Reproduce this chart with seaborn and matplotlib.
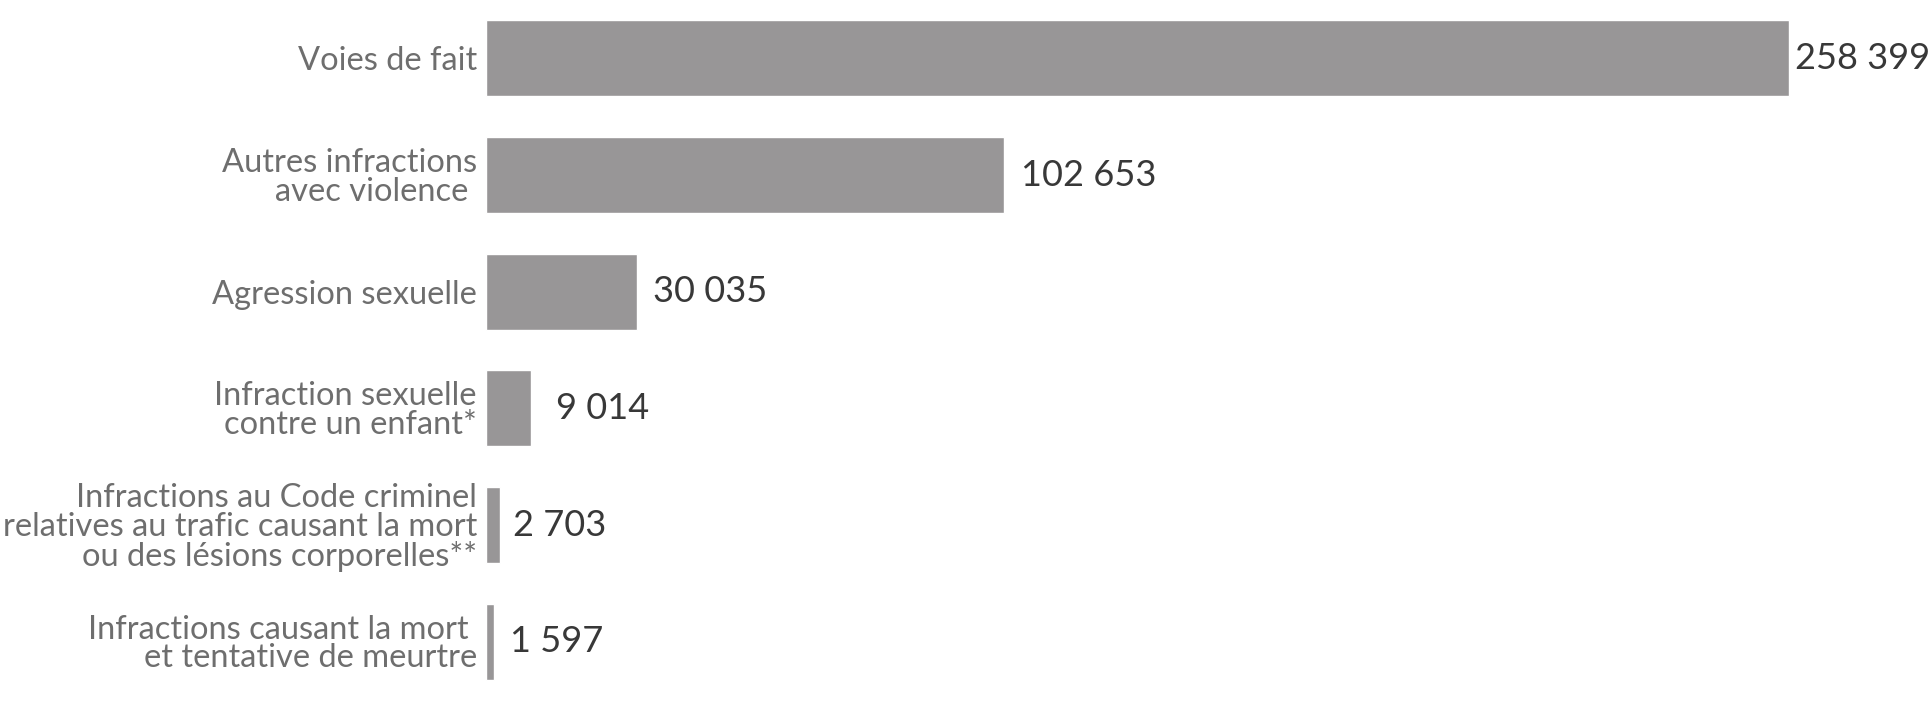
import matplotlib
matplotlib.use("Agg")
import matplotlib.pyplot as plt
import seaborn as sns
import pandas as pd

categories = [
    "Voies de fait",
    "Autres infractions\navec violence ",
    "Agression sexuelle",
    "Infraction sexuelle\ncontre un enfant*",
    "Infractions au Code criminel\nrelatives au trafic causant la mort\nou des lésions corporelles**",
    "Infractions causant la mort \net tentative de meurtre",
]
values = [258399, 102653, 30035, 9014, 2703, 1597]
value_labels = ["258 399", "102 653", "30 035", "9 014", "2 703", "1 597"]

sns.set_style("white")
plt.rcParams["font.family"] = ["Lato", "DejaVu Sans"]

df = pd.DataFrame({"cat": categories, "val": values})

fig = plt.figure(figsize=(19.28, 7.09), dpi=100)
ax = fig.add_axes([486 / 1928, 9 / 709, 1 - 486 / 1928, 700 / 709])

sns.barplot(data=df, x="val", y="cat", orient="h", color="#989697",
            saturation=1, width=0.65, ax=ax)

ax.set_xlim(0, 285960)
ax.set_ylim(5.5, -0.5)
ax.set_xlabel("")
ax.set_ylabel("")
ax.set_xticks([])
sns.despine(ax=ax, left=True, bottom=True)
ax.tick_params(axis="y", length=0, pad=6.5, labelsize=23.5, labelcolor="#6e6e6e")
for t in ax.get_yticklabels():
    t.set_linespacing(0.95)

# espace entre la barre et l'étiquette (points)
pads = [4.5, 12.5, 11, 18, 9.5, 11.5]
for i, (v, lab) in enumerate(zip(values, value_labels)):
    ax.annotate(lab, xy=(v, i), xytext=(pads[i], 0), textcoords="offset points",
                ha="left", va="center", fontsize=26, color="#383838")

fig.savefig("out.png", dpi=100)
